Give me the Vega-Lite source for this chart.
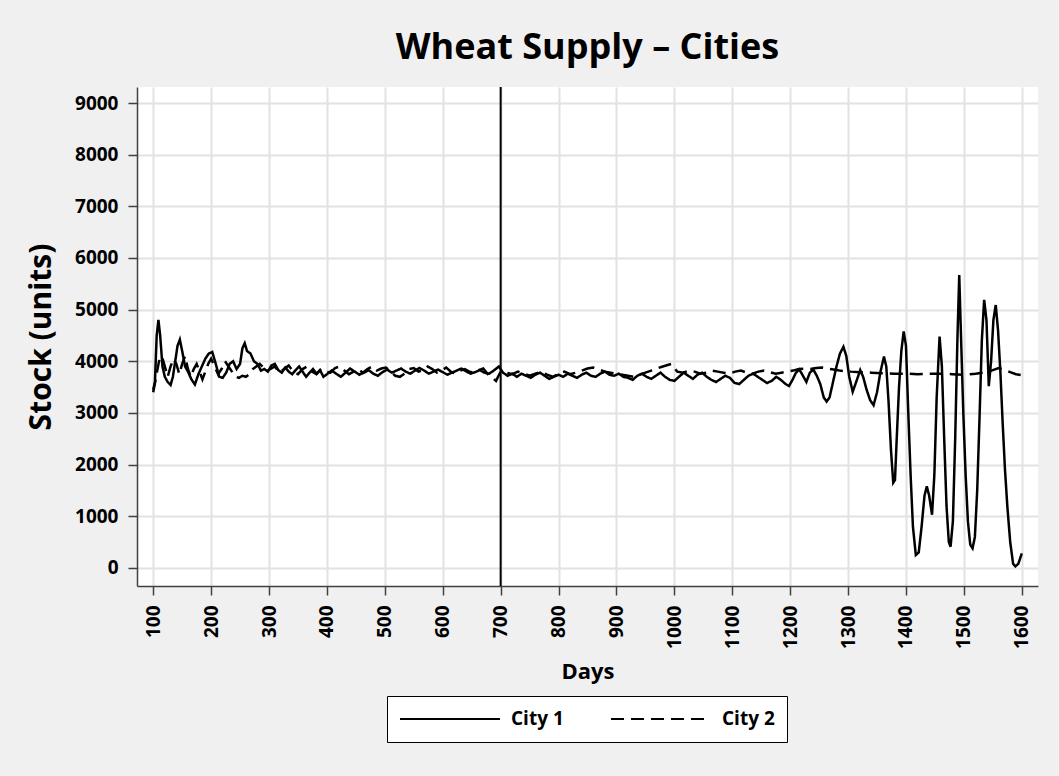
{
  "$schema": "https://vega.github.io/schema/vega-lite/v6.json",
  "width": 901,
  "height": 499,
  "autosize": {"type": "none"},
  "padding": {"left": 137, "top": 87, "right": 21, "bottom": 190},
  "background": "#f0f0f0",
  "config": {
    "font": "Open Sans",
    "view": {"fill": "white", "stroke": null},
    "axis": {
      "labelFont": "Open Sans", "labelFontWeight": "bold", "labelFontSize": 19, "labelColor": "black",
      "titleFont": "Open Sans", "titleFontWeight": "bold", "titleColor": "black",
      "domainColor": "#404040", "domainWidth": 1.5, "tickColor": "#404040", "tickWidth": 1.5, "tickSize": 9,
      "gridColor": "#e2e2e2", "gridWidth": 2
    }
  },
  "title": {
    "text": "Wheat Supply – Cities",
    "font": "Open Sans", "fontSize": 36, "fontWeight": "bold", "color": "black",
    "anchor": "middle", "frame": "group", "baseline": "alphabetic", "offset": 25, "dy": 34
  },
  "datasets": {
    "marker": [{"day": 700}],
    "supply": [
      {"city":"City 1","day":100,"stock":3450},{"city":"City 1","day":103,"stock":3600},{"city":"City 1","day":106,"stock":4500},{"city":"City 1","day":109,"stock":4800},{"city":"City 1","day":112,"stock":4500},{"city":"City 1","day":116,"stock":3900},{"city":"City 1","day":120,"stock":3700},{"city":"City 1","day":125,"stock":3600},{"city":"City 1","day":130,"stock":3540},{"city":"City 1","day":134,"stock":3700},{"city":"City 1","day":138,"stock":4000},{"city":"City 1","day":142,"stock":4300},{"city":"City 1","day":146,"stock":4420},{"city":"City 1","day":150,"stock":4200},{"city":"City 1","day":155,"stock":3900},{"city":"City 1","day":160,"stock":3800},{"city":"City 1","day":166,"stock":3650},{"city":"City 1","day":172,"stock":3550},{"city":"City 1","day":178,"stock":3750},{"city":"City 1","day":184,"stock":3900},{"city":"City 1","day":190,"stock":4050},{"city":"City 1","day":196,"stock":4150},{"city":"City 1","day":202,"stock":4180},{"city":"City 1","day":208,"stock":3950},{"city":"City 1","day":214,"stock":3700},{"city":"City 1","day":220,"stock":3680},{"city":"City 1","day":226,"stock":3780},{"city":"City 1","day":232,"stock":3950},{"city":"City 1","day":238,"stock":4000},{"city":"City 1","day":244,"stock":3850},{"city":"City 1","day":250,"stock":3950},{"city":"City 1","day":254,"stock":4250},{"city":"City 1","day":258,"stock":4350},{"city":"City 1","day":262,"stock":4200},{"city":"City 1","day":268,"stock":4150},{"city":"City 1","day":274,"stock":4000},{"city":"City 1","day":280,"stock":3950},{"city":"City 1","day":286,"stock":3820},{"city":"City 1","day":292,"stock":3850},{"city":"City 1","day":298,"stock":3800},{"city":"City 1","day":304,"stock":3920},{"city":"City 1","day":310,"stock":3950},{"city":"City 1","day":316,"stock":3830},{"city":"City 1","day":322,"stock":3780},{"city":"City 1","day":328,"stock":3880},{"city":"City 1","day":334,"stock":3800},{"city":"City 1","day":340,"stock":3750},{"city":"City 1","day":346,"stock":3830},{"city":"City 1","day":352,"stock":3900},{"city":"City 1","day":358,"stock":3800},{"city":"City 1","day":364,"stock":3700},{"city":"City 1","day":370,"stock":3780},{"city":"City 1","day":376,"stock":3850},{"city":"City 1","day":382,"stock":3760},{"city":"City 1","day":388,"stock":3830},{"city":"City 1","day":394,"stock":3700},
      {"city":"City 1","day":400,"stock":3750},{"city":"City 1","day":408,"stock":3820},{"city":"City 1","day":416,"stock":3760},{"city":"City 1","day":424,"stock":3700},{"city":"City 1","day":432,"stock":3780},{"city":"City 1","day":440,"stock":3860},{"city":"City 1","day":448,"stock":3800},{"city":"City 1","day":456,"stock":3740},{"city":"City 1","day":464,"stock":3780},{"city":"City 1","day":472,"stock":3830},{"city":"City 1","day":480,"stock":3760},{"city":"City 1","day":488,"stock":3720},{"city":"City 1","day":496,"stock":3790},{"city":"City 1","day":504,"stock":3840},{"city":"City 1","day":512,"stock":3780},{"city":"City 1","day":520,"stock":3820},{"city":"City 1","day":528,"stock":3860},{"city":"City 1","day":536,"stock":3800},{"city":"City 1","day":544,"stock":3760},{"city":"City 1","day":552,"stock":3820},{"city":"City 1","day":560,"stock":3870},{"city":"City 1","day":568,"stock":3820},{"city":"City 1","day":576,"stock":3760},{"city":"City 1","day":584,"stock":3800},{"city":"City 1","day":592,"stock":3840},{"city":"City 1","day":600,"stock":3790},{"city":"City 1","day":608,"stock":3740},{"city":"City 1","day":616,"stock":3780},{"city":"City 1","day":624,"stock":3820},{"city":"City 1","day":632,"stock":3860},{"city":"City 1","day":640,"stock":3810},{"city":"City 1","day":648,"stock":3760},{"city":"City 1","day":656,"stock":3790},{"city":"City 1","day":664,"stock":3830},{"city":"City 1","day":672,"stock":3780},{"city":"City 1","day":680,"stock":3760},{"city":"City 1","day":688,"stock":3820},{"city":"City 1","day":697,"stock":3900},{"city":"City 1","day":704,"stock":3780},{"city":"City 1","day":712,"stock":3720},{"city":"City 1","day":720,"stock":3760},{"city":"City 1","day":728,"stock":3700},{"city":"City 1","day":736,"stock":3760},{"city":"City 1","day":744,"stock":3720},{"city":"City 1","day":752,"stock":3680},{"city":"City 1","day":760,"stock":3740},{"city":"City 1","day":768,"stock":3780},{"city":"City 1","day":776,"stock":3720},{"city":"City 1","day":784,"stock":3660},{"city":"City 1","day":792,"stock":3700},{"city":"City 1","day":800,"stock":3740},{"city":"City 1","day":808,"stock":3700},{"city":"City 1","day":816,"stock":3760},{"city":"City 1","day":824,"stock":3720},{"city":"City 1","day":832,"stock":3680},{"city":"City 1","day":840,"stock":3740},{"city":"City 1","day":848,"stock":3780},{"city":"City 1","day":856,"stock":3720},{"city":"City 1","day":864,"stock":3700},{"city":"City 1","day":872,"stock":3760},{"city":"City 1","day":880,"stock":3800},{"city":"City 1","day":888,"stock":3740},{"city":"City 1","day":896,"stock":3720},{"city":"City 1","day":904,"stock":3760},{"city":"City 1","day":912,"stock":3700},{"city":"City 1","day":920,"stock":3680},{"city":"City 1","day":928,"stock":3640},{"city":"City 1","day":936,"stock":3720},{"city":"City 1","day":944,"stock":3760},{"city":"City 1","day":952,"stock":3700},{"city":"City 1","day":960,"stock":3660},{"city":"City 1","day":968,"stock":3720},{"city":"City 1","day":976,"stock":3780},{"city":"City 1","day":984,"stock":3700},{"city":"City 1","day":992,"stock":3640},{"city":"City 1","day":1000,"stock":3620},{"city":"City 1","day":1008,"stock":3700},{"city":"City 1","day":1016,"stock":3780},{"city":"City 1","day":1024,"stock":3720},{"city":"City 1","day":1032,"stock":3660},{"city":"City 1","day":1040,"stock":3740},{"city":"City 1","day":1048,"stock":3780},{"city":"City 1","day":1056,"stock":3700},{"city":"City 1","day":1064,"stock":3640},{"city":"City 1","day":1072,"stock":3600},{"city":"City 1","day":1080,"stock":3660},{"city":"City 1","day":1088,"stock":3720},{"city":"City 1","day":1096,"stock":3680},{"city":"City 1","day":1104,"stock":3580},{"city":"City 1","day":1112,"stock":3560},{"city":"City 1","day":1120,"stock":3640},{"city":"City 1","day":1128,"stock":3720},{"city":"City 1","day":1136,"stock":3760},{"city":"City 1","day":1144,"stock":3700},{"city":"City 1","day":1152,"stock":3640},{"city":"City 1","day":1160,"stock":3580},{"city":"City 1","day":1168,"stock":3620},{"city":"City 1","day":1176,"stock":3700},{"city":"City 1","day":1184,"stock":3640},{"city":"City 1","day":1192,"stock":3560},{"city":"City 1","day":1198,"stock":3520},{"city":"City 1","day":1204,"stock":3640},{"city":"City 1","day":1210,"stock":3780},{"city":"City 1","day":1216,"stock":3840},{"city":"City 1","day":1222,"stock":3720},{"city":"City 1","day":1228,"stock":3600},{"city":"City 1","day":1234,"stock":3780},{"city":"City 1","day":1240,"stock":3840},{"city":"City 1","day":1246,"stock":3720},{"city":"City 1","day":1252,"stock":3560},{"city":"City 1","day":1258,"stock":3300},{"city":"City 1","day":1263,"stock":3220},{"city":"City 1","day":1268,"stock":3300},{"city":"City 1","day":1274,"stock":3600},{"city":"City 1","day":1280,"stock":3900},{"city":"City 1","day":1286,"stock":4150},{"city":"City 1","day":1292,"stock":4280},{"city":"City 1","day":1297,"stock":4100},{"city":"City 1","day":1302,"stock":3700},{"city":"City 1","day":1308,"stock":3410},{"city":"City 1","day":1314,"stock":3600},{"city":"City 1","day":1321,"stock":3830},{"city":"City 1","day":1326,"stock":3700},{"city":"City 1","day":1332,"stock":3450},{"city":"City 1","day":1338,"stock":3250},{"city":"City 1","day":1344,"stock":3150},{"city":"City 1","day":1350,"stock":3400},{"city":"City 1","day":1356,"stock":3800},{"city":"City 1","day":1362,"stock":4090},{"city":"City 1","day":1366,"stock":3900},{"city":"City 1","day":1370,"stock":3200},{"city":"City 1","day":1374,"stock":2300},{"city":"City 1","day":1378,"stock":1650},{"city":"City 1","day":1381,"stock":1700},{"city":"City 1","day":1384,"stock":2500},{"city":"City 1","day":1388,"stock":3500},{"city":"City 1","day":1392,"stock":4200},{"city":"City 1","day":1396,"stock":4580},{"city":"City 1","day":1400,"stock":4300},{"city":"City 1","day":1404,"stock":3000},{"city":"City 1","day":1408,"stock":1800},{"city":"City 1","day":1412,"stock":800},{"city":"City 1","day":1417,"stock":250},{"city":"City 1","day":1422,"stock":300},{"city":"City 1","day":1427,"stock":800},{"city":"City 1","day":1432,"stock":1400},{"city":"City 1","day":1436,"stock":1580},{"city":"City 1","day":1440,"stock":1400},{"city":"City 1","day":1445,"stock":1030},{"city":"City 1","day":1449,"stock":1800},{"city":"City 1","day":1453,"stock":3300},{"city":"City 1","day":1458,"stock":4480},{"city":"City 1","day":1462,"stock":3900},{"city":"City 1","day":1466,"stock":2500},{"city":"City 1","day":1470,"stock":1200},{"city":"City 1","day":1474,"stock":500},{"city":"City 1","day":1477,"stock":410},{"city":"City 1","day":1481,"stock":900},{"city":"City 1","day":1485,"stock":2500},{"city":"City 1","day":1489,"stock":4500},{"city":"City 1","day":1492,"stock":5670},{"city":"City 1","day":1495,"stock":4500},{"city":"City 1","day":1499,"stock":3000},{"city":"City 1","day":1503,"stock":1800},{"city":"City 1","day":1507,"stock":900},{"city":"City 1","day":1511,"stock":450},{"city":"City 1","day":1515,"stock":380},{"city":"City 1","day":1519,"stock":600},{"city":"City 1","day":1523,"stock":1500},{"city":"City 1","day":1527,"stock":2900},{"city":"City 1","day":1531,"stock":4400},{"city":"City 1","day":1535,"stock":5190},{"city":"City 1","day":1539,"stock":4800},{"city":"City 1","day":1543,"stock":3520},{"city":"City 1","day":1547,"stock":4000},{"city":"City 1","day":1551,"stock":4800},{"city":"City 1","day":1555,"stock":5090},{"city":"City 1","day":1559,"stock":4600},{"city":"City 1","day":1563,"stock":3800},{"city":"City 1","day":1567,"stock":2800},{"city":"City 1","day":1571,"stock":1900},{"city":"City 1","day":1575,"stock":1200},{"city":"City 1","day":1580,"stock":500},{"city":"City 1","day":1585,"stock":80},{"city":"City 1","day":1589,"stock":30},{"city":"City 1","day":1594,"stock":80},{"city":"City 1","day":1600,"stock":280},
      {"city":"City 2","day":100,"stock":3400},{"city":"City 2","day":105,"stock":3700},{"city":"City 2","day":110,"stock":4000},{"city":"City 2","day":115,"stock":4100},{"city":"City 2","day":120,"stock":3900},{"city":"City 2","day":125,"stock":3700},{"city":"City 2","day":130,"stock":3900},{"city":"City 2","day":135,"stock":4050},{"city":"City 2","day":140,"stock":3950},{"city":"City 2","day":145,"stock":3750},{"city":"City 2","day":150,"stock":3950},{"city":"City 2","day":155,"stock":4100},{"city":"City 2","day":160,"stock":3850},{"city":"City 2","day":165,"stock":3700},{"city":"City 2","day":170,"stock":3850},{"city":"City 2","day":175,"stock":3950},{"city":"City 2","day":180,"stock":3800},{"city":"City 2","day":185,"stock":3650},{"city":"City 2","day":190,"stock":3800},{"city":"City 2","day":195,"stock":3950},{"city":"City 2","day":200,"stock":4050},{"city":"City 2","day":206,"stock":3900},{"city":"City 2","day":212,"stock":3750},{"city":"City 2","day":218,"stock":3850},{"city":"City 2","day":224,"stock":4000},{"city":"City 2","day":230,"stock":3900},{"city":"City 2","day":236,"stock":3800},{"city":"City 2","day":242,"stock":3700},{"city":"City 2","day":248,"stock":3680},{"city":"City 2","day":254,"stock":3720},{"city":"City 2","day":260,"stock":3700},{"city":"City 2","day":266,"stock":3750},{"city":"City 2","day":272,"stock":3850},{"city":"City 2","day":278,"stock":3900},{"city":"City 2","day":284,"stock":3950},{"city":"City 2","day":290,"stock":3880},{"city":"City 2","day":296,"stock":3800},{"city":"City 2","day":302,"stock":3850},{"city":"City 2","day":310,"stock":3900},{"city":"City 2","day":318,"stock":3780},{"city":"City 2","day":326,"stock":3850},{"city":"City 2","day":334,"stock":3920},{"city":"City 2","day":342,"stock":3800},{"city":"City 2","day":350,"stock":3750},{"city":"City 2","day":358,"stock":3850},{"city":"City 2","day":366,"stock":3900},{"city":"City 2","day":374,"stock":3800},{"city":"City 2","day":382,"stock":3750},{"city":"City 2","day":390,"stock":3850},{"city":"City 2","day":398,"stock":3800},{"city":"City 2","day":406,"stock":3780},{"city":"City 2","day":414,"stock":3870},{"city":"City 2","day":422,"stock":3900},{"city":"City 2","day":430,"stock":3820},{"city":"City 2","day":438,"stock":3750},{"city":"City 2","day":446,"stock":3800},{"city":"City 2","day":454,"stock":3850},{"city":"City 2","day":462,"stock":3780},{"city":"City 2","day":470,"stock":3850},{"city":"City 2","day":478,"stock":3900},{"city":"City 2","day":486,"stock":3820},{"city":"City 2","day":494,"stock":3860},{"city":"City 2","day":502,"stock":3880},{"city":"City 2","day":510,"stock":3800},{"city":"City 2","day":518,"stock":3720},{"city":"City 2","day":526,"stock":3700},{"city":"City 2","day":534,"stock":3760},{"city":"City 2","day":542,"stock":3850},{"city":"City 2","day":550,"stock":3870},{"city":"City 2","day":558,"stock":3800},{"city":"City 2","day":566,"stock":3830},{"city":"City 2","day":574,"stock":3900},{"city":"City 2","day":582,"stock":3850},{"city":"City 2","day":590,"stock":3780},{"city":"City 2","day":598,"stock":3820},{"city":"City 2","day":606,"stock":3880},{"city":"City 2","day":614,"stock":3800},{"city":"City 2","day":622,"stock":3760},{"city":"City 2","day":630,"stock":3820},{"city":"City 2","day":638,"stock":3850},{"city":"City 2","day":646,"stock":3800},{"city":"City 2","day":654,"stock":3780},{"city":"City 2","day":662,"stock":3830},{"city":"City 2","day":670,"stock":3860},{"city":"City 2","day":678,"stock":3750},{"city":"City 2","day":686,"stock":3680},{"city":"City 2","day":692,"stock":3620},{"city":"City 2","day":700,"stock":3800},{"city":"City 2","day":710,"stock":3780},{"city":"City 2","day":720,"stock":3750},{"city":"City 2","day":730,"stock":3800},{"city":"City 2","day":740,"stock":3760},{"city":"City 2","day":750,"stock":3720},{"city":"City 2","day":760,"stock":3760},{"city":"City 2","day":770,"stock":3800},{"city":"City 2","day":780,"stock":3740},{"city":"City 2","day":790,"stock":3700},{"city":"City 2","day":800,"stock":3760},{"city":"City 2","day":810,"stock":3800},{"city":"City 2","day":820,"stock":3750},{"city":"City 2","day":830,"stock":3780},{"city":"City 2","day":840,"stock":3820},{"city":"City 2","day":850,"stock":3860},{"city":"City 2","day":860,"stock":3880},{"city":"City 2","day":870,"stock":3840},{"city":"City 2","day":880,"stock":3800},{"city":"City 2","day":890,"stock":3780},{"city":"City 2","day":900,"stock":3760},{"city":"City 2","day":910,"stock":3740},{"city":"City 2","day":920,"stock":3720},{"city":"City 2","day":930,"stock":3700},{"city":"City 2","day":940,"stock":3740},{"city":"City 2","day":950,"stock":3780},{"city":"City 2","day":960,"stock":3820},{"city":"City 2","day":970,"stock":3860},{"city":"City 2","day":980,"stock":3900},{"city":"City 2","day":995,"stock":3950},{"city":"City 2","day":1005,"stock":3800},{"city":"City 2","day":1015,"stock":3780},{"city":"City 2","day":1025,"stock":3820},{"city":"City 2","day":1035,"stock":3800},{"city":"City 2","day":1045,"stock":3760},{"city":"City 2","day":1055,"stock":3780},{"city":"City 2","day":1065,"stock":3820},{"city":"City 2","day":1075,"stock":3800},{"city":"City 2","day":1085,"stock":3780},{"city":"City 2","day":1095,"stock":3760},{"city":"City 2","day":1105,"stock":3800},{"city":"City 2","day":1115,"stock":3820},{"city":"City 2","day":1125,"stock":3780},{"city":"City 2","day":1135,"stock":3760},{"city":"City 2","day":1145,"stock":3800},{"city":"City 2","day":1155,"stock":3820},{"city":"City 2","day":1165,"stock":3790},{"city":"City 2","day":1175,"stock":3760},{"city":"City 2","day":1185,"stock":3780},{"city":"City 2","day":1195,"stock":3800},{"city":"City 2","day":1205,"stock":3820},{"city":"City 2","day":1215,"stock":3850},{"city":"City 2","day":1225,"stock":3860},{"city":"City 2","day":1235,"stock":3850},{"city":"City 2","day":1245,"stock":3870},{"city":"City 2","day":1255,"stock":3880},{"city":"City 2","day":1265,"stock":3860},{"city":"City 2","day":1275,"stock":3840},{"city":"City 2","day":1285,"stock":3820},{"city":"City 2","day":1295,"stock":3810},{"city":"City 2","day":1305,"stock":3800},{"city":"City 2","day":1320,"stock":3790},{"city":"City 2","day":1340,"stock":3780},{"city":"City 2","day":1360,"stock":3770},{"city":"City 2","day":1380,"stock":3760},{"city":"City 2","day":1400,"stock":3760},{"city":"City 2","day":1420,"stock":3750},{"city":"City 2","day":1440,"stock":3760},{"city":"City 2","day":1460,"stock":3760},{"city":"City 2","day":1480,"stock":3750},{"city":"City 2","day":1500,"stock":3740},{"city":"City 2","day":1520,"stock":3760},{"city":"City 2","day":1540,"stock":3790},{"city":"City 2","day":1550,"stock":3830},{"city":"City 2","day":1560,"stock":3870},{"city":"City 2","day":1570,"stock":3840},{"city":"City 2","day":1580,"stock":3790},{"city":"City 2","day":1590,"stock":3750},{"city":"City 2","day":1600,"stock":3730}
    ]
  },
  "layer": [
    {
      "data": {"name": "supply"},
      "mark": {"type": "line", "color": "black", "strokeWidth": 2.5},
      "encoding": {
        "x": {
          "field": "day", "type": "quantitative",
          "scale": {"domain": [72, 1628], "nice": false, "zero": false},
          "axis": {"values": [100,200,300,400,500,600,700,800,900,1000,1100,1200,1300,1400,1500,1600], "format": "d", "labelAngle": -90, "labelPadding": 10, "title": "Days", "titleFontSize": 22, "titlePadding": 13}
        },
        "y": {
          "field": "stock", "type": "quantitative",
          "scale": {"domain": [-350, 9310], "nice": false, "zero": false},
          "axis": {"values": [0,1000,2000,3000,4000,5000,6000,7000,8000,9000], "format": "d", "labelPadding": 10, "title": "Stock (units)", "titleFontSize": 30, "titlePadding": 18}
        },
        "strokeDash": {
          "field": "city", "type": "nominal",
          "scale": {"domain": ["City 1", "City 2"], "range": [[1, 0], [13, 7]]},
          "legend": {
            "title": null, "orient": "none", "legendX": 250, "legendY": 609, "direction": "horizontal",
            "symbolType": "stroke", "symbolSize": 10000, "symbolStrokeWidth": 2, "symbolStrokeColor": "black",
            "clipHeight": 22,
            "labelFont": "Open Sans", "labelFontWeight": "bold", "labelFontSize": 19, "labelColor": "black",
            "labelOffset": 10, "columnPadding": 46, "padding": 12,
            "fillColor": "white", "strokeColor": "black"
          }
        }
      }
    },
    {
      "data": {"name": "marker"},
      "mark": {"type": "rule", "color": "black", "strokeWidth": 2},
      "encoding": {"x": {"field": "day", "type": "quantitative"}}
    }
  ]
}
